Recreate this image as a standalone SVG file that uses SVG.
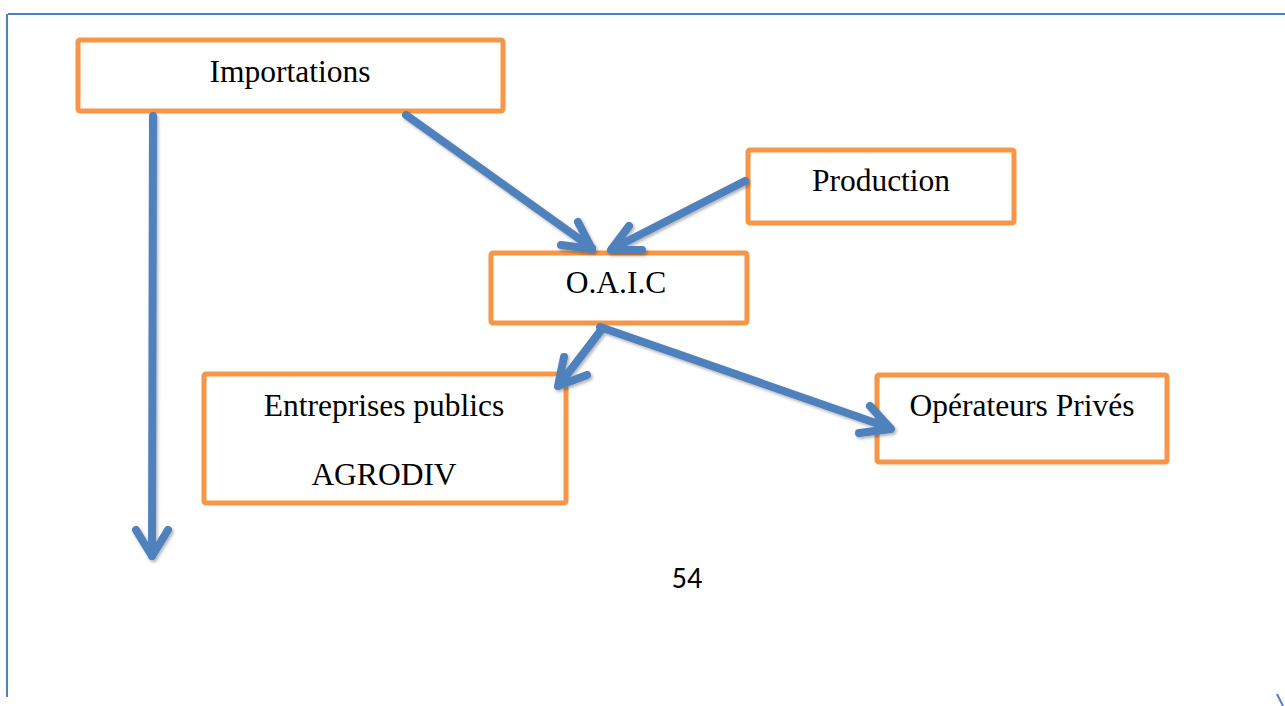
<svg xmlns="http://www.w3.org/2000/svg" width="1285" height="706" viewBox="0 0 1285 706">
<style>
.box{fill:#fff;stroke:#F79646;stroke-width:5;}
.t{font-family:"Liberation Serif","Times New Roman",serif;font-size:31.5px;fill:#000;text-anchor:middle;}
.c{fill:none;stroke:#4F81BD;stroke-width:8;stroke-linecap:round;stroke-linejoin:round;}
.border{stroke:#4F81BD;stroke-width:2;fill:none;}
</style>
<defs>
<filter id="sh" x="-20%" y="-20%" width="140%" height="140%">
<feDropShadow dx="1.5" dy="2" stdDeviation="1.5" flood-color="#000" flood-opacity="0.3"/>
</filter>
</defs>
<g id="page">
<line class="border" x1="8" y1="14" x2="1285" y2="14"/>
<line class="border" x1="7" y1="14" x2="7" y2="697"/>
<line class="border" x1="1277" y1="694" x2="1283" y2="706" stroke-width="1.5"/>
<text x="687" y="588" font-family="Carlito,'Open Sans','Liberation Sans',sans-serif" font-size="30" text-anchor="middle">54</text>
</g>
<g id="node-importations">
<rect class="box" x="78" y="40" width="425" height="71" rx="2"/>
<text class="t" x="290" y="82">Importations</text>
</g>
<g id="node-production">
<rect class="box" x="748" y="150" width="266" height="73" rx="2"/>
<text class="t" x="881" y="191">Production</text>
</g>
<g id="node-oaic">
<rect class="box" x="491" y="253" width="256" height="70" rx="2"/>
<text class="t" x="616" y="293">O.A.I.C</text>
</g>
<g id="node-entreprises">
<rect class="box" x="204" y="374" width="362" height="129" rx="2"/>
<text class="t" x="384" y="416">Entreprises publics</text>
<text class="t" x="384" y="485">AGRODIV</text>
</g>
<g id="node-operateurs">
<rect class="box" x="877" y="375" width="290" height="87" rx="2"/>
<text class="t" x="1022" y="416">Opérateurs Privés</text>
</g>
<g id="connectors" filter="url(#sh)">
<path class="c" d="M153 116 L152 556"/>
<path class="c" d="M136 530 L152 556 L168 530"/>
<path class="c" d="M406 115 L592 248"/>
<path class="c" d="M578 222 L592 249 L561 245"/>
<path class="c" d="M745 181 L612 249"/>
<path class="c" d="M629 226 L611 250 L642 250"/>
<path class="c" d="M602 329 L559 385"/>
<path class="c" d="M564 357 L558 386 L587 375"/>
<path class="c" d="M600 327 L890 428"/>
<path class="c" d="M870 406 L891 429 L859 433"/>
</g>
</svg>
